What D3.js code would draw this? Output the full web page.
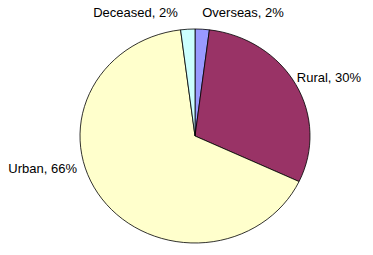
<!DOCTYPE html>
<html lang="en">
<head>
    <meta charset="UTF-8">
    <title>Pie chart</title>
    <script src="https://d3js.org/d3.v7.min.js"></script>
    <style>
        body {
            margin: 0;
            background-color: #ffffff;
            font-family: Arial, "Liberation Sans", sans-serif;
        }
        .label {
            font-size: 13px;
            fill: #000000;
        }
    </style>
</head>
<body>
    <svg class="chart" width="373" height="255"></svg>
    <script>
        // data, clockwise from 12 o'clock
        const categories = ['Overseas', 'Rural', 'Urban', 'Deceased'];
        const values = [2, 30, 66, 2];
        const colors = ['#9999ff', '#993366', '#ffffcc', '#ccffff'];

        // label nudges relative to the slice's outer edge point (dx, dy, anchor)
        const labelNudge = [
            { dx: 0, dy: -12, anchor: 'start' },
            { dx: 1, dy: -2, anchor: 'start' },
            { dx: -25, dy: -26, anchor: 'end' },
            { dx: -10, dy: -12, anchor: 'end' }
        ];

        const cx = 195, cy = 136;
        const rx = 115, ry = 107;

        const svg = d3.select('.chart');

        const pie = d3.pie().sort(null).value(d => d);
        const arcs = pie(values);

        const arc = d3.arc().innerRadius(0).outerRadius(rx);

        // squash vertically a little, like the original
        const g = svg.append('g')
            .attr('transform', `translate(${cx},${cy}) scale(1,${ry / rx})`);

        g.selectAll('path')
            .data(arcs)
            .enter().append('path')
            .attr('d', arc)
            .attr('fill', (d, i) => colors[i])
            .attr('stroke', '#000000')
            .attr('stroke-width', 1)
            .attr('stroke-opacity', 0.8)
            .attr('vector-effect', 'non-scaling-stroke');

        // labels
        const total = d3.sum(values);
        svg.selectAll('.label')
            .data(arcs)
            .enter().append('text')
            .attr('class', 'label')
            .attr('x', (d, i) => {
                const a = (d.startAngle + d.endAngle) / 2;
                return cx + rx * Math.sin(a) + labelNudge[i].dx;
            })
            .attr('y', (d, i) => {
                const a = (d.startAngle + d.endAngle) / 2;
                return cy - ry * Math.cos(a) + labelNudge[i].dy;
            })
            .attr('text-anchor', (d, i) => labelNudge[i].anchor)
            .text((d, i) => `${categories[i]}, ${Math.round(values[i] / total * 100)}%`);
    </script>
</body>
</html>
